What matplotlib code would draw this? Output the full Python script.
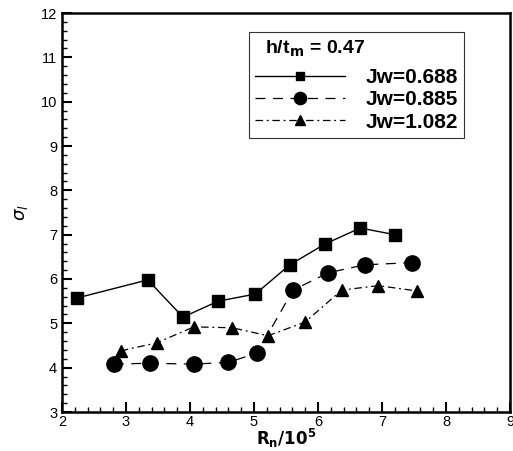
import matplotlib
matplotlib.use("Agg")
import matplotlib.pyplot as plt
from matplotlib.ticker import MultipleLocator

plt.rcParams['font.family'] = ['Liberation Sans', 'DejaVu Sans']

x_sq = [2.23, 3.34, 3.89, 4.44, 5.02, 5.56, 6.11, 6.66, 7.20]
y_sq = [5.57, 5.98, 5.14, 5.50, 5.66, 6.32, 6.79, 7.15, 7.00]
x_ci = [2.81, 3.37, 4.06, 4.60, 5.05, 5.61, 6.16, 6.73, 7.47]
y_ci = [4.08, 4.10, 4.08, 4.12, 4.33, 5.75, 6.14, 6.32, 6.37]
x_tr = [2.92, 3.48, 4.06, 4.66, 5.22, 5.80, 6.37, 6.94, 7.55]
y_tr = [4.38, 4.56, 4.92, 4.90, 4.72, 5.03, 5.75, 5.85, 5.73]
labels = ["Jw=0.688", "Jw=0.885", "Jw=1.082"]

fig = plt.figure(figsize=(5.13, 4.51), dpi=100)
ax = fig.add_axes([62/513, 39/451, 448/513, 399/451])

ax.plot(x_sq, y_sq, '-', color='black', lw=1.0, marker='s', ms=8, label=labels[0])
ax.plot(x_ci, y_ci, linestyle=(0, (8, 6)), color='black', lw=0.9, marker='o', ms=11, label=labels[1])
ax.plot(x_tr, y_tr, linestyle=(0, (6, 3, 1.5, 3)), color='black', lw=0.9, marker='^', ms=9, label=labels[2])

ax.set_xlim(2, 9)
ax.set_ylim(3, 12)
ax.xaxis.set_major_locator(MultipleLocator(1))
ax.xaxis.set_minor_locator(MultipleLocator(0.2))
ax.yaxis.set_major_locator(MultipleLocator(1))
ax.yaxis.set_minor_locator(MultipleLocator(0.2))
ax.tick_params(which='both', direction='in', top=False, right=False, labelsize=10.5, width=1.5)
ax.tick_params(axis='x', pad=2)
ax.tick_params(which='major', length=7)
ax.tick_params(which='minor', length=3.5, width=1)
for s in ax.spines.values():
    s.set_linewidth(1.8)

ax.set_xlabel(r'$\mathbf{R_n/10^5}$', fontsize=12, labelpad=-1)
ax.set_ylabel(r'$\sigma_l$', fontsize=13, labelpad=8)

leg = ax.legend(loc='upper left', bbox_to_anchor=((249-62)/448, (412-32)/399),
                title=r'h/t$_\mathbf{m}$ = 0.47', title_fontproperties={'weight': 'bold', 'size': 14},
                prop={'weight': 'bold', 'size': 15}, frameon=True, fancybox=False,
                edgecolor='black', handlelength=4.3, borderaxespad=0, labelspacing=0.15,
                borderpad=0.3, handletextpad=1.0, markerscale=0.8)
leg._legend_box.align = 'left'
leg._legend_box.sep = 7
leg.get_title().set_position((10, 0))
leg.get_frame().set_linewidth(0.8)

fig.savefig('out.png', dpi=100)
